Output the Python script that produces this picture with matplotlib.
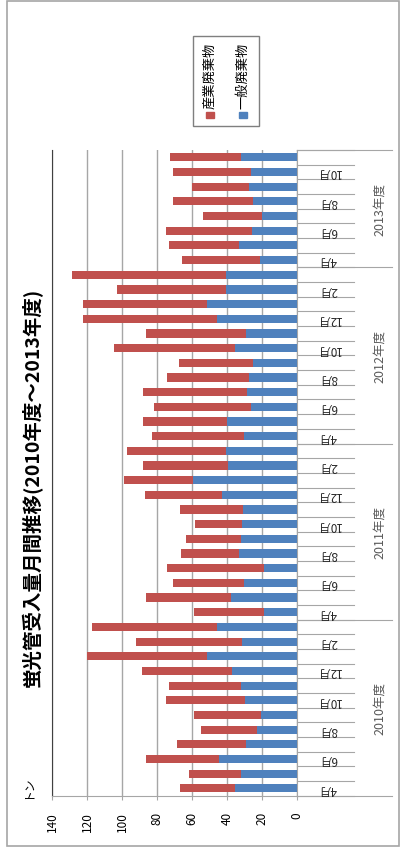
import matplotlib
matplotlib.use("Agg")
import matplotlib.pyplot as plt
from matplotlib.patches import Rectangle
import numpy as np

plt.rcParams['font.family'] = ['Noto Sans CJK JP', 'DejaVu Sans']

#%% data
years = ['2010年度', '2011年度', '2012年度', '2013年度']
months_per_year = [12, 12, 12, 8]
month_names = ['4月', '5月', '6月', '7月', '8月', '9月',
               '10月', '11月', '12月', '1月', '2月', '3月']

# 一般廃棄物 (blue, from zero)
general = [35.4, 31.8, 44.4, 29.3, 23.0, 20.8, 29.7, 32.2, 37.3, 51.6, 31.2, 45.9,
           18.9, 37.9, 30.3, 18.9, 33.0, 32.2, 31.4, 30.7, 42.7, 59.6, 39.6, 40.8,
           30.3, 40.2, 26.5, 28.8, 27.2, 25.3, 35.4, 29.1, 45.9, 51.6, 40.8, 40.8,
           21.1, 33.1, 25.9, 20.2, 25.0, 27.6, 26.5, 32.0]
# 産業廃棄物 (red, stacked)
industrial = [31.3, 29.9, 41.9, 39.5, 32.0, 38.2, 45.2, 41.1, 51.1, 68.4, 61.0, 71.2,
              40.1, 48.4, 40.4, 55.2, 33.3, 31.4, 27.1, 36.3, 44.2, 39.1, 48.2, 56.2,
              52.4, 47.6, 55.0, 59.0, 47.3, 41.9, 69.2, 57.2, 76.6, 70.9, 61.9, 87.8,
              44.4, 40.2, 49.1, 33.7, 46.0, 32.2, 44.2, 40.6]

title = '蛍光管受入量月間推移(2010年度～2013年度)'
legend_labels = ['産業廃棄物', '一般廃棄物']
xticks = [0, 20, 40, 60, 80, 100, 120, 140]

red = '#C0504D'
blue = '#4F81BD'
grid_c = '#A6A6A6'

W, H = 401, 854
fig = plt.figure(figsize=(W / 100, H / 100), dpi=100)

def fx(px):
    return px / W

def fy(py):
    return 1 - py / H

# plot area (chart is laid out rotated: values run right -> left)
left, right, top, bottom = 52, 297, 151, 796.7
ax = fig.add_axes([fx(left), fy(bottom), fx(right - left), (bottom - top) / H])

n = len(general)
y = np.arange(n)
ax.barh(y, general, height=0.56, color=blue, zorder=3)
ax.barh(y, industrial, left=general, height=0.56, color=red, zorder=3)

ax.set_xlim(140, 0)
ax.set_ylim(-0.5, n - 0.5)
ax.set_xticks(xticks)
ax.set_xticklabels([str(v) for v in xticks], rotation=90, fontsize=8.5)
ax.tick_params(axis='x', length=3, pad=8, color=grid_c)
ax.set_yticks([])
ax.grid(axis='x', color=grid_c, linewidth=1, zorder=0)

ax.spines['top'].set_visible(False)
ax.spines['left'].set_color('#404040')
ax.spines['bottom'].set_color(grid_c)
ax.spines['right'].set_color(grid_c)

# category axis: month ticks, labels, year separators
tr = ax.get_yaxis_transform()
tick_len = 57 / (right - left)
year_len = 95 / (right - left)
for b in range(n + 1):
    ax.plot([1, 1 + tick_len], [b - 0.5, b - 0.5], transform=tr,
            color=grid_c, lw=0.8, clip_on=False)

start = 0
for yr, cnt in zip(years, months_per_year):
    ax.plot([1, 1 + year_len], [start - 0.5, start - 0.5], transform=tr,
            color=grid_c, lw=0.8, clip_on=False)
    for k in range(0, cnt, 2):
        ax.text(1 + (328 - right) / (right - left), start + k, month_names[k],
                transform=tr, rotation=180, ha='center', va='center',
                fontsize=8.5, color='#262626')
    ax.text(1 + (380 - right) / (right - left), start + (cnt - 1) / 2, yr,
            transform=tr, rotation=90, ha='center', va='center',
            fontsize=9, color='#595959')
    start += cnt
ax.plot([1, 1 + year_len], [n - 0.5, n - 0.5], transform=tr,
        color=grid_c, lw=0.8, clip_on=False)

# title and unit
fig.text(fx(32), fy(487), title, rotation=90, ha='center', va='center',
         fontsize=14, fontweight='bold')
fig.text(fx(27), fy(787), 'トン', rotation=90, ha='center', va='center',
         fontsize=8.5)

# legend drawn by hand (rotated)
fig.patches.append(Rectangle((fx(193), fy(127)), fx(66), 90 / H,
                             transform=fig.transFigure, fill=False,
                             edgecolor='#7F7F7F', lw=1))
for lx, col, lab in [(210, red, legend_labels[0]), (243, blue, legend_labels[1])]:
    fig.patches.append(Rectangle((fx(lx - 4), fy(119)), fx(8), 6 / H,
                                 transform=fig.transFigure, color=col))
    fig.text(fx(lx), fy(109), lab, rotation=90, ha='center', va='bottom',
             fontsize=9.5)

# outer frame
fig.patches.append(Rectangle((fx(7), fy(847)), fx(392), 845 / H,
                             transform=fig.transFigure, fill=False,
                             edgecolor='#A6A6A6', lw=1.2))

fig.savefig('out.png', dpi=100)
